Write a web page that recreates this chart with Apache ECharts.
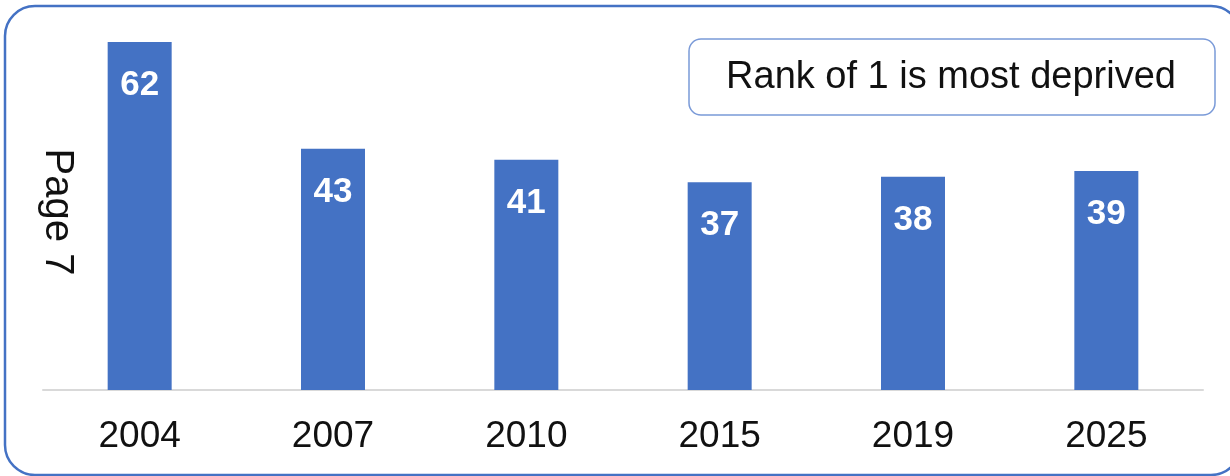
<!DOCTYPE html>
<html>
<head>
<meta charset="utf-8">
<script src="https://cdn.jsdelivr.net/npm/echarts@6/dist/echarts.min.js"></script>
<style>
  html, body { margin: 0; padding: 0; background: #fff; }
  #chart { width: 1230px; height: 476px; }
</style>
</head>
<body>
<div id="chart"></div>
<script>
// Deprivation rank by year
const years = ["2004", "2007", "2010", "2015", "2019", "2025"];
const ranks = [62, 43, 41, 37, 38, 39];

const chart = echarts.init(document.getElementById("chart"), null, { renderer: "canvas" });

const font = "'Liberation Sans', Arial, sans-serif";

const option = {
  animation: false,
  grid: { left: 43, right: 27, top: 42, bottom: 86 },
  xAxis: {
    type: "category",
    data: years,
    axisLine: { lineStyle: { color: "#d9d9d9", width: 2 } },
    axisTick: { show: false },
    axisLabel: { color: "#111", fontSize: 37, fontFamily: font, margin: 28 }
  },
  yAxis: {
    type: "value",
    min: 0,
    max: 62,
    show: false
  },
  series: [
    {
      type: "bar",
      data: ranks,
      barWidth: 64,
      itemStyle: { color: "#4472C4" },
      label: {
        show: true,
        position: "insideTop",
        distance: 26,
        color: "#fff",
        fontWeight: "bold",
        fontSize: 35,
        fontFamily: font
      }
    }
  ],
  graphic: [
    {
      // outer rounded frame
      type: "rect",
      shape: { x: 5, y: 6, width: 1236, height: 469, r: 30 },
      style: { fill: "none", stroke: "#4472C4", lineWidth: 2.5 },
      silent: true
    },
    {
      type: "rect",
      shape: { x: 689, y: 39, width: 526, height: 76, r: 12 },
      style: { fill: "#fff", stroke: "#7a9ad8", lineWidth: 1.5 },
      silent: true
    },
    {
      type: "text",
      x: 951,
      y: 78,
      style: {
        text: "Rank of 1 is most deprived",
        fontSize: 38,
        fontFamily: font,
        fill: "#111",
        align: "center",
        verticalAlign: "middle"
      }
    },
    {
      // side caption, rotated clockwise
      type: "text",
      x: 57,
      y: 212,
      rotation: -Math.PI / 2,
      style: {
        text: "Page 7",
        fontSize: 40,
        fontFamily: font,
        fill: "#111",
        align: "center",
        verticalAlign: "middle"
      }
    }
  ]
};

chart.setOption(option);
</script>
</body>
</html>
